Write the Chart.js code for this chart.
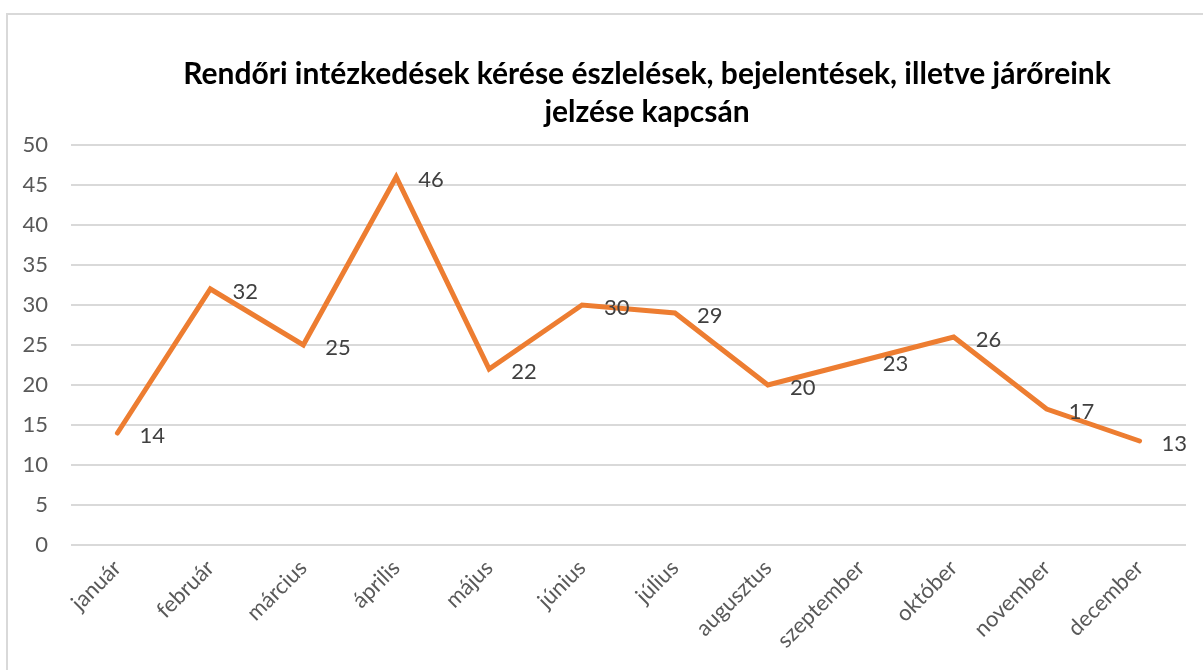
<!DOCTYPE html>
<html>
<head>
<meta charset="utf-8">
<script src="https://cdn.jsdelivr.net/npm/chart.js@4"></script>
<style>
    body { margin: 0; overflow: hidden; background: #fff; }
    #frame { position: absolute; left: 6px; top: 13px; width: 1260px; height: 720px; border: 2px solid #d9d9d9; }
    #titulo { position: absolute; left: 97px; width: 1100px; top: 53px; text-align: center;
        font-family: Lato, sans-serif; font-weight: bold; font-size: 30px; line-height: 38px; color: #000; }
    #wrap { position: absolute; left: 0; top: 0; width: 1203px; height: 670px; }
</style>
</head>
<body>
<div id="frame"></div>
<div id="wrap"><canvas id="grafico"></canvas></div>
<div id="titulo">Rendőri intézkedések kérése észlelések, bejelentések, illetve járőreink<br>jelzése kapcsán</div>
<script>
var honapok = ['január', 'február', 'március', 'április', 'május', 'június', 'július',
    'augusztus', 'szeptember', 'október', 'november', 'december'];
var ertekek = [14, 32, 25, 46, 22, 30, 29, 20, 23, 26, 17, 13];
var y_min = 0;
var y_max = 50;
var y_lepes = 5;

// ertek cimkek a pontok mellett
var cimkek = {
    id: 'cimkek',
    afterDatasetsDraw: function (chart) {
        var ctx = chart.ctx;
        var meta = chart.getDatasetMeta(0);
        ctx.save();
        ctx.font = '22px Lato, sans-serif';
        ctx.fillStyle = '#404040';
        ctx.textAlign = 'left';
        ctx.textBaseline = 'middle';
        meta.data.forEach(function (pont, i) {
            ctx.fillText(String(chart.data.datasets[0].data[i]), pont.x + 22, pont.y + 3);
        });
        ctx.restore();
    }
};

var chart = new Chart(document.getElementById('grafico'), {
    type: 'line',
    data: {
        labels: honapok,
        datasets: [{
            data: ertekek,
            borderColor: '#ED7D31',
            backgroundColor: '#ED7D31',
            borderWidth: 5,
            borderCapStyle: 'round',
            pointRadius: 0,
            tension: 0,
            fill: false
        }]
    },
    options: {
        responsive: true,
        maintainAspectRatio: false,
        animation: false,
        layout: { padding: { left: 0, top: 145, right: 17, bottom: 0 } },
        plugins: {
            legend: { display: false },
            title: { display: false },
            tooltip: { enabled: false }
        },
        scales: {
            x: {
                offset: true,
                grid: { display: false, drawTicks: false },
                border: { display: false },
                ticks: {
                    color: '#595959',
                    font: { family: 'Lato, sans-serif', size: 22 },
                    minRotation: 45,
                    maxRotation: 45,
                    padding: 10
                },
                afterFit: function (scale) { scale.height = 125; }
            },
            y: {
                min: y_min,
                max: y_max,
                grid: { color: '#d9d9d9', lineWidth: 2, drawTicks: false },
                border: { display: false },
                ticks: {
                    stepSize: y_lepes,
                    color: '#595959',
                    font: { family: 'Lato, sans-serif', size: 22 },
                    padding: 23
                },
                afterFit: function (scale) { scale.width = 71; }
            }
        }
    },
    plugins: [cimkek]
});
</script>
</body>
</html>
